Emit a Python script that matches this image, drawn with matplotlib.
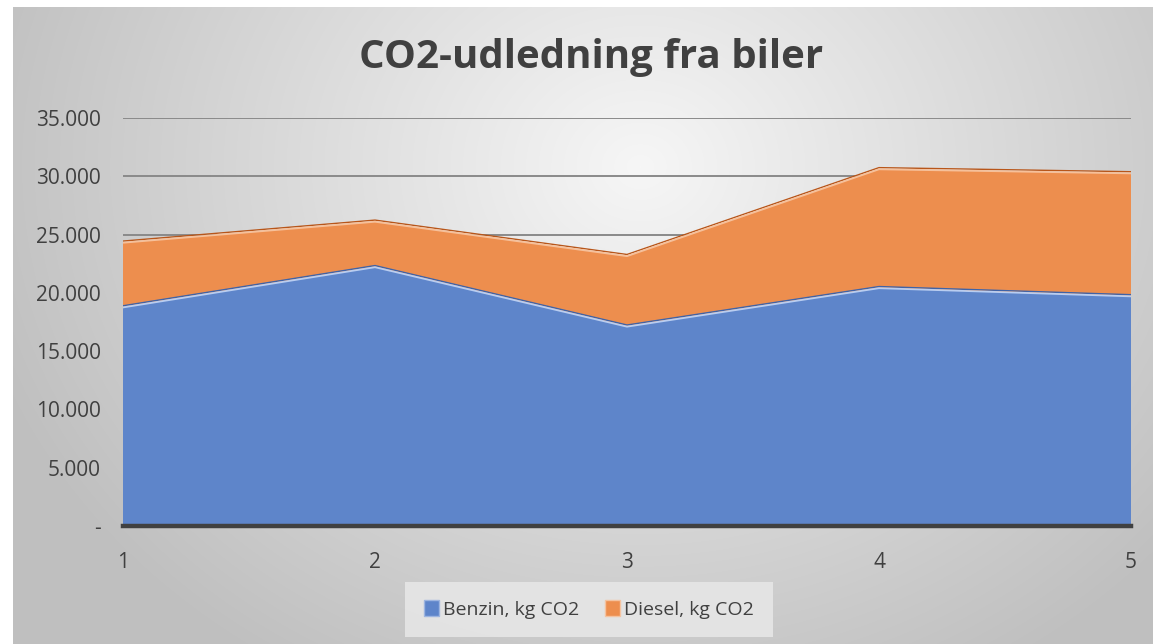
import numpy as np
import matplotlib
matplotlib.use("Agg")
import matplotlib.pyplot as plt
from matplotlib import transforms
from matplotlib.ticker import FuncFormatter, FixedLocator
from matplotlib.patches import Patch

# data
years = [1, 2, 3, 4, 5]
benzin = [18750, 22200, 17100, 20400, 19700]
diesel = [5550, 3900, 6050, 10200, 10550]
series_names = ["Benzin, kg CO2", "Diesel, kg CO2"]
title = "CO2-udledning fra biler"

blue = "#5e85ca"
orange = "#ed8e4e"

plt.rcParams['font.family'] = ['Open Sans', 'DejaVu Sans']

fig = plt.figure(figsize=(11.53, 6.44), dpi=100)
fig.patch.set_facecolor("white")

# radial gray background, like the Excel chart area
bg = fig.add_axes([13 / 1153, 0, 1 - 13 / 1153, 1 - 7 / 644])
bg.set_axis_off()
h, w = 637, 1140
yy, xx = np.mgrid[0:h, 0:w]
r = np.sqrt(((xx - w * 0.55) / (w * 0.62)) ** 2 + ((yy - h * 0.25) / (h * 0.95)) ** 2)
shade = np.clip(0.965 - 0.22 * r, 0.75, 1)
bg.imshow(np.dstack([shade] * 3), aspect="auto", extent=[0, 1, 0, 1])
bg.set_xlim(0, 1)
bg.set_ylim(0, 1)

ax = fig.add_axes([123 / 1153, 1 - 526 / 644, (1131 - 123) / 1153, (526 - 118) / 644])
ax.patch.set_alpha(0)

b = np.array(benzin)
d = np.array(diesel)
ax.stackplot(years, b, d, colors=[blue, orange], zorder=2)

# bevel-like edges on the tops
up = transforms.offset_copy(ax.transData, fig=fig, x=0, y=1.2, units="points")
ax.plot(years, b, color="#3f63a8", lw=1.0, transform=up, zorder=3)
ax.plot(years, b, color="#b9cdf0", lw=1.3, zorder=3)
ax.plot(years, b + d, color="#b8561a", lw=1.0, transform=up, zorder=3)
ax.plot(years, b + d, color="#f6c09a", lw=1.3, zorder=3)

ax.set_xlim(1, 5)
ax.set_ylim(0, 35000)
ax.yaxis.set_major_locator(FixedLocator(range(0, 35001, 5000)))
ax.xaxis.set_major_locator(FixedLocator(years))


def fmt(v, pos):
    if v == 0:
        return "-"
    return f"{int(v):,}".replace(",", ".")


ax.yaxis.set_major_formatter(FuncFormatter(fmt))
ax.grid(axis="y", color="#8a8a8a", lw=1.4, zorder=1)
ax.set_axisbelow(True)
for s in ["top", "right", "left"]:
    ax.spines[s].set_visible(False)
ax.spines["bottom"].set_color("#404040")
ax.spines["bottom"].set_linewidth(3.2)
ax.spines["bottom"].set_zorder(4)
ax.tick_params(axis="both", length=0, labelsize=15, labelcolor="#404040")
ax.tick_params(axis="y", pad=16)
ax.tick_params(axis="x", pad=19)

fig.text(591 / 1153, 1 - 68 / 644, title, ha="center", va="baseline",
         fontsize=29, fontweight="bold", color="#404040")

handles = [Patch(facecolor=blue, edgecolor="#9db5e0"),
           Patch(facecolor=orange, edgecolor="#f4c3a0")]
leg = fig.legend(handles, series_names, loc="center", bbox_to_anchor=(589 / 1153, 1 - 609.5 / 644),
                 ncol=2, frameon=True, fontsize=14, handlelength=0.8, handleheight=0.9,
                 handletextpad=0.2, columnspacing=1.3, borderpad=0.65, labelcolor="#404040")
leg.get_frame().set_facecolor("#e6e6e6")
leg.get_frame().set_edgecolor("none")
leg.get_frame().set_alpha(0.9)
leg.get_frame().set_boxstyle("square")

fig.savefig("out.png", dpi=100)
